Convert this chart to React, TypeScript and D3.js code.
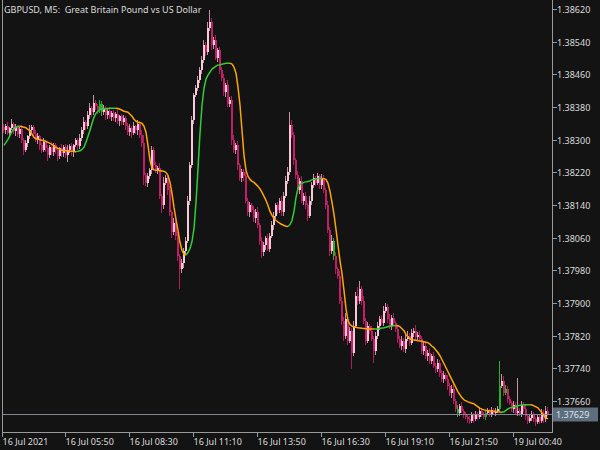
import React from "react";
import * as d3 from "d3";

// Prices are stored in points (0.00001) above BASE
const BASE = 1.37;
const POINT = 0.00001;
const title = "GBPUSD, M5:  Great Britain Pound vs US Dollar";
const firstOpenPts = 1330;

const closePts = [
  1323,1333,1316,1328,1338,1321,1330,1313,1325,1298,
  1274,1291,1308,1323,1330,1313,1298,1308,1286,1274,
  1294,1279,1262,1281,1269,1286,1274,1259,1279,1267,
  1281,1262,1274,1284,1269,1286,1298,1284,1303,1323,
  1343,1333,1360,1377,1367,1389,1382,1372,1387,1367,
  1377,1360,1370,1355,1365,1352,1362,1345,1357,1343,
  1352,1333,1318,1328,1316,1333,1323,1338,1311,1291,
  1213,1195,1210,1225,1274,1237,1225,1230,1163,1139,
  1195,1205,1176,1122,1073,1097,1065,1016,984,999,
  1028,1053,1151,1237,1348,1409,1426,1446,1470,1495,
  1532,1514,1573,1588,1532,1544,1500,1519,1470,1451,
  1416,1433,1387,1397,1298,1274,1286,1237,1205,1220,
  1210,1151,1122,1139,1127,1107,1122,1090,1053,1024,
  1041,1058,1033,1065,1090,1114,1139,1127,1151,1122,
  1163,1200,1220,1335,1311,1249,1213,1176,1200,1151,
  1163,1139,1114,1151,1188,1205,1195,1210,1188,1205,
  1176,1139,1078,1028,1053,1016,984,967,906,857,
  820,862,808,832,778,844,918,906,935,906,
  857,808,844,832,813,783,820,844,862,852,
  881,891,862,844,864,852,837,813,795,808,
  788,813,820,803,827,832,817,822,813,783,
  795,771,778,759,771,746,739,754,729,714,
  724,714,697,680,690,660,641,631,648,636,
  626,621,616,611,626,616,629,621,636,629,
  621,631,636,629,638,631,636,641,697,709,
  680,690,665,655,641,651,631,636,629,651,
  641,624,611,619,626,616,609,621,611,631,
  616,636,629,
];

const upWickPts = [
  8,5,10,4,12,6,9,3,7,11,
  6,9,4,12,7,5,10,8,3,6,
  11,4,8,6,13,5,7,9,4,10,
  6,8,12,5,9,4,7,6,10,8,
  12,5,9,14,6,20,8,5,11,7,
  9,6,4,10,5,8,6,12,4,7,
  9,5,8,11,6,10,4,9,7,12,
  20,6,8,5,10,7,9,6,12,5,
  14,8,6,10,5,12,7,9,4,8,
  6,9,12,8,10,6,9,11,7,10,
  12,8,14,30,10,8,12,6,9,7,
  10,6,12,8,9,14,6,10,7,9,
  8,11,5,9,6,10,7,12,5,8,
  9,6,11,7,10,8,5,9,6,12,
  8,10,14,32,12,9,6,10,7,11,
  6,9,5,12,8,10,6,9,7,11,
  8,6,12,9,14,7,10,5,12,8,
  9,14,6,10,8,12,10,20,18,6,
  10,7,9,5,12,6,8,10,7,9,
  11,8,6,10,7,12,5,9,6,10,
  7,9,12,6,10,8,14,6,9,7,
  10,6,8,12,5,9,7,10,6,8,
  9,5,10,7,8,12,6,9,5,10,
  4,7,5,8,6,4,7,5,9,6,
  5,8,6,4,7,5,8,6,61,18,
  12,10,6,8,5,9,6,80,7,10,
  6,8,5,7,9,6,4,8,6,10,
  7,12,9,
];

const downWickPts = [
  6,10,5,9,4,8,11,6,9,7,
  12,5,8,6,10,7,4,9,11,6,
  5,9,14,7,6,10,8,12,6,9,
  10,7,16,6,8,11,5,9,7,6,
  8,10,6,9,12,7,10,8,6,9,
  7,11,9,5,10,6,9,7,12,6,
  8,10,6,9,12,5,8,11,6,10,
  25,8,10,6,9,12,7,10,8,18,
  9,6,12,8,15,7,10,12,49,10,
  14,8,6,10,7,9,5,8,6,10,
  7,10,6,8,12,9,6,10,8,7,
  9,12,6,8,10,7,9,11,6,8,
  10,7,9,12,6,8,11,7,10,14,
  8,10,6,9,7,12,8,10,6,9,
  10,7,9,6,8,12,10,7,9,6,
  11,8,14,6,10,7,9,6,10,8,
  7,9,6,12,8,10,14,8,9,11,
  12,8,10,7,39,9,6,10,8,12,
  8,10,7,9,6,30,10,8,9,7,
  9,6,11,8,10,7,9,12,6,10,
  8,10,7,9,6,11,8,10,7,9,
  10,7,12,8,9,6,10,8,11,7,
  9,6,10,8,12,7,9,10,8,6,
  8,6,10,7,5,9,6,8,5,7,
  6,8,5,7,9,6,8,5,7,6,
  8,6,9,5,7,10,6,8,5,9,
  7,10,8,6,9,7,10,5,8,6,
  9,7,6,
];

const maPts = [
  1286.2,1293.5,1300.9,1310.7,1320.5,1327.9,1330.3,1332.8,1332.8,1331.6,
  1330.3,1329.1,1325.4,1320.5,1313.2,1305.8,1302.1,1300.9,1299.7,1298.4,
  1297.2,1296.0,1293.5,1291.1,1288.6,1283.7,1281.3,1278.8,1276.4,1273.9,
  1273.2,1272.7,1272.2,1271.9,1271.4,1271.0,1270.7,1271.4,1272.7,1276.4,
  1281.3,1293.5,1308.3,1323.0,1340.2,1354.9,1364.7,1369.6,1373.3,1375.0,
  1375.7,1376.2,1376.5,1376.7,1377.0,1377.0,1377.0,1376.2,1374.5,1372.1,
  1369.6,1368.4,1367.2,1362.2,1357.3,1350.0,1345.1,1342.6,1341.4,1340.2,
  1332.8,1318.1,1286.2,1249.4,1229.7,1226.0,1224.8,1224.3,1223.8,1223.3,
  1222.4,1219.9,1212.5,1195.4,1168.4,1134.0,1104.6,1077.6,1048.1,1028.5,
  1018.7,1017.5,1023.6,1033.4,1050.6,1082.5,1146.3,1229.7,1315.6,1384.3,
  1426.0,1448.1,1457.9,1465.3,1472.7,1476.4,1480.0,1482.5,1483.7,1484.9,
  1486.2,1486.9,1487.4,1487.4,1484.9,1477.6,1462.9,1428.5,1384.3,1323.0,
  1261.6,1224.8,1210.1,1202.7,1197.8,1195.4,1190.5,1185.6,1179.4,1170.8,
  1161.0,1151.2,1138.9,1124.2,1114.4,1107.0,1102.1,1098.4,1094.8,1092.3,
  1089.8,1088.1,1087.4,1092.3,1102.1,1124.2,1158.6,1180.6,1190.5,1192.9,
  1195.4,1196.6,1197.8,1199.0,1201.5,1202.7,1204.0,1205.2,1205.2,1205.2,
  1204.5,1202.7,1192.9,1173.3,1146.3,1116.8,1080.0,1040.8,1004.0,972.1,
  930.3,886.2,856.7,846.9,843.2,842.0,840.8,839.5,838.8,838.1,
  837.6,837.1,837.1,836.6,836.4,836.1,836.4,837.1,837.8,838.8,
  839.5,840.8,842.0,843.0,843.7,844.4,844.9,844.4,842.0,837.1,
  832.2,822.4,817.5,812.5,810.1,809.4,808.6,807.6,806.9,806.2,
  805.2,804.0,802.7,799.1,794.1,790.5,784.3,778.2,770.8,761.0,
  751.2,741.4,731.6,721.7,711.9,702.1,692.3,682.5,675.1,667.8,
  662.9,660.4,657.9,656.2,654.3,653.0,649.4,645.7,642.0,640.0,
  638.3,637.1,636.4,635.9,635.1,634.6,634.1,633.4,632.9,632.7,
  633.4,637.1,640.8,643.2,644.4,645.7,646.9,648.1,649.4,650.1,
  650.6,650.8,651.1,651.1,650.1,648.1,645.7,643.2,637.1,631.0,
  623.6,618.7,616.2,
];

const greenBarIdx = [48, 49, 165, 227, 241, 248, 251];

const yTicks = [1.3862, 1.3854, 1.3846, 1.3838, 1.383, 1.3822, 1.3814, 1.3806, 1.3798, 1.379, 1.3782, 1.3774, 1.3766];
const xTickBars = [0, 31, 63, 95, 127, 159, 191, 223, 255];
const xTickLabels = ["16 Jul 2021", "16 Jul 05:50", "16 Jul 08:30", "16 Jul 11:10", "16 Jul 13:50", "16 Jul 16:30", "16 Jul 19:10", "16 Jul 21:50", "19 Jul 00:40"];

const BG = "#131313";
const FRAME = "#9a9a9a";
const TEXT = "#dcdcdc";
const BULL_BODY = "#f4cbd6";
const BULL_WICK = "#c98fa5";
const BEAR_BODY = "#c21f66";
const BEAR_WICK = "#b01c5c";
const GREEN_BAR = "#22b422";
const MA_UP = "#32cd32";
const MA_DOWN = "#ffa500";
const FONT = "'Noto Sans', sans-serif";

export default function App() {
  const W = 600, H = 450;
  const left = 2, right = 552, bottom = 432;
  const n = closePts.length;
  const x = d3.scaleLinear().domain([0, n - 1]).range([3, 547]);
  const y = d3.scaleLinear().domain([1.3766, 1.3862]).range([401, 9]);
  const p = (pts: number) => BASE + pts * POINT;

  const bars = closePts.map((c, i) => {
    const o = i === 0 ? firstOpenPts : closePts[i - 1];
    const hi = Math.max(o, c) + upWickPts[i];
    const lo = Math.min(o, c) - downWickPts[i];
    return { i, o: p(o), c: p(c), h: p(hi), l: p(lo), bull: c >= o, green: greenBarIdx.includes(i) };
  });

  // MA colored by direction (hysteresis on flat)
  const dirs: boolean[] = [];
  maPts.forEach((v, i) => {
    if (i === 0) dirs.push(true);
    else if (v > maPts[i - 1]) dirs.push(true);
    else if (v < maPts[i - 1]) dirs.push(false);
    else dirs.push(dirs[i - 1]);
  });
  const runs: { up: boolean; idx: number[] }[] = [];
  for (let i = 1; i < maPts.length; i++) {
    const up = dirs[i];
    const last = runs[runs.length - 1];
    if (last && last.up === up) last.idx.push(i);
    else runs.push({ up, idx: [i - 1, i] });
  }
  const line = d3.line<number>().x((i) => x(i) + 1).y((i) => y(p(maPts[i])));

  const lastClose = bars[n - 1].c;
  const bidY = Math.round(y(lastClose)) + 0.5;

  return (
    <div style={{ position: "fixed", left: 0, top: 0, width: W, height: H }}>
      <svg width={W} height={H} style={{ display: "block", background: BG }} fontFamily={FONT}>
        <rect x={0} y={0} width={W} height={H} fill={BG} />
        {/* candles */}
        <g shapeRendering="crispEdges">
          {bars.map((b) => {
            const cx = Math.round(x(b.i));
            const wickCol = b.green ? GREEN_BAR : b.bull ? BULL_WICK : BEAR_WICK;
            const bodyCol = b.green ? GREEN_BAR : b.bull ? BULL_BODY : BEAR_BODY;
            const yh = y(b.h), yl = y(b.l);
            const yt = y(Math.max(b.o, b.c)), yb = y(Math.min(b.o, b.c));
            return (
              <g key={b.i}>
                <rect x={cx} y={yh} width={1} height={Math.max(1, yl - yh)} fill={wickCol} />
                <rect x={cx} y={yt} width={2} height={Math.max(1, yb - yt)} fill={bodyCol} />
              </g>
            );
          })}
        </g>
        {/* bid line */}
        <line x1={left} x2={right} y1={bidY} y2={bidY} stroke="#7f8890" strokeWidth={1} />
        {/* MA */}
        {runs.map((r, k) => (
          <path key={k} d={line(r.idx) || ""} fill="none" stroke={r.up ? MA_UP : MA_DOWN} strokeWidth={1.5} strokeLinejoin="round" />
        ))}
        {/* frame */}
        <g shapeRendering="crispEdges" stroke={FRAME} strokeWidth={1}>
          <line x1={left + 0.5} x2={left + 0.5} y1={0} y2={bottom} />
          <line x1={right + 0.5} x2={right + 0.5} y1={0} y2={bottom + 0.5} />
          <line x1={left} x2={right + 1} y1={bottom + 0.5} y2={bottom + 0.5} />
        </g>
        {/* y axis */}
        {yTicks.map((t) => {
          const ty = Math.round(y(t)) + 0.5;
          return (
            <g key={t}>
              <line x1={right + 1} x2={right + 5} y1={ty} y2={ty} stroke={FRAME} shapeRendering="crispEdges" />
              <text x={right + 5} y={ty} dy="0.35em" fontSize={9} fill={TEXT}>{t.toFixed(5)}</text>
            </g>
          );
        })}
        {/* bid label */}
        <rect x={right + 1} y={bidY - 7} width={45} height={14} fill="#5f6e7c" />
        <text x={right + 4} y={bidY} dy="0.35em" fontSize={9} fill="#d6e2ee">{lastClose.toFixed(5)}</text>
        {/* x axis */}
        {xTickBars.map((bi, k) => {
          const tx = k === 0 ? left + 0.5 : Math.round(x(bi)) + 0.5;
          return (
            <g key={bi}>
              <line x1={tx} x2={tx} y1={bottom} y2={bottom + 5} stroke={FRAME} shapeRendering="crispEdges" />
              <text x={tx} y={445} fontSize={9} fill={TEXT}>{xTickLabels[k]}</text>
            </g>
          );
        })}
        {/* title */}
        <text x={4} y={13} fontSize={9} fill={TEXT} style={{ whiteSpace: "pre" }}>{title}</text>
      </svg>
    </div>
  );
}
